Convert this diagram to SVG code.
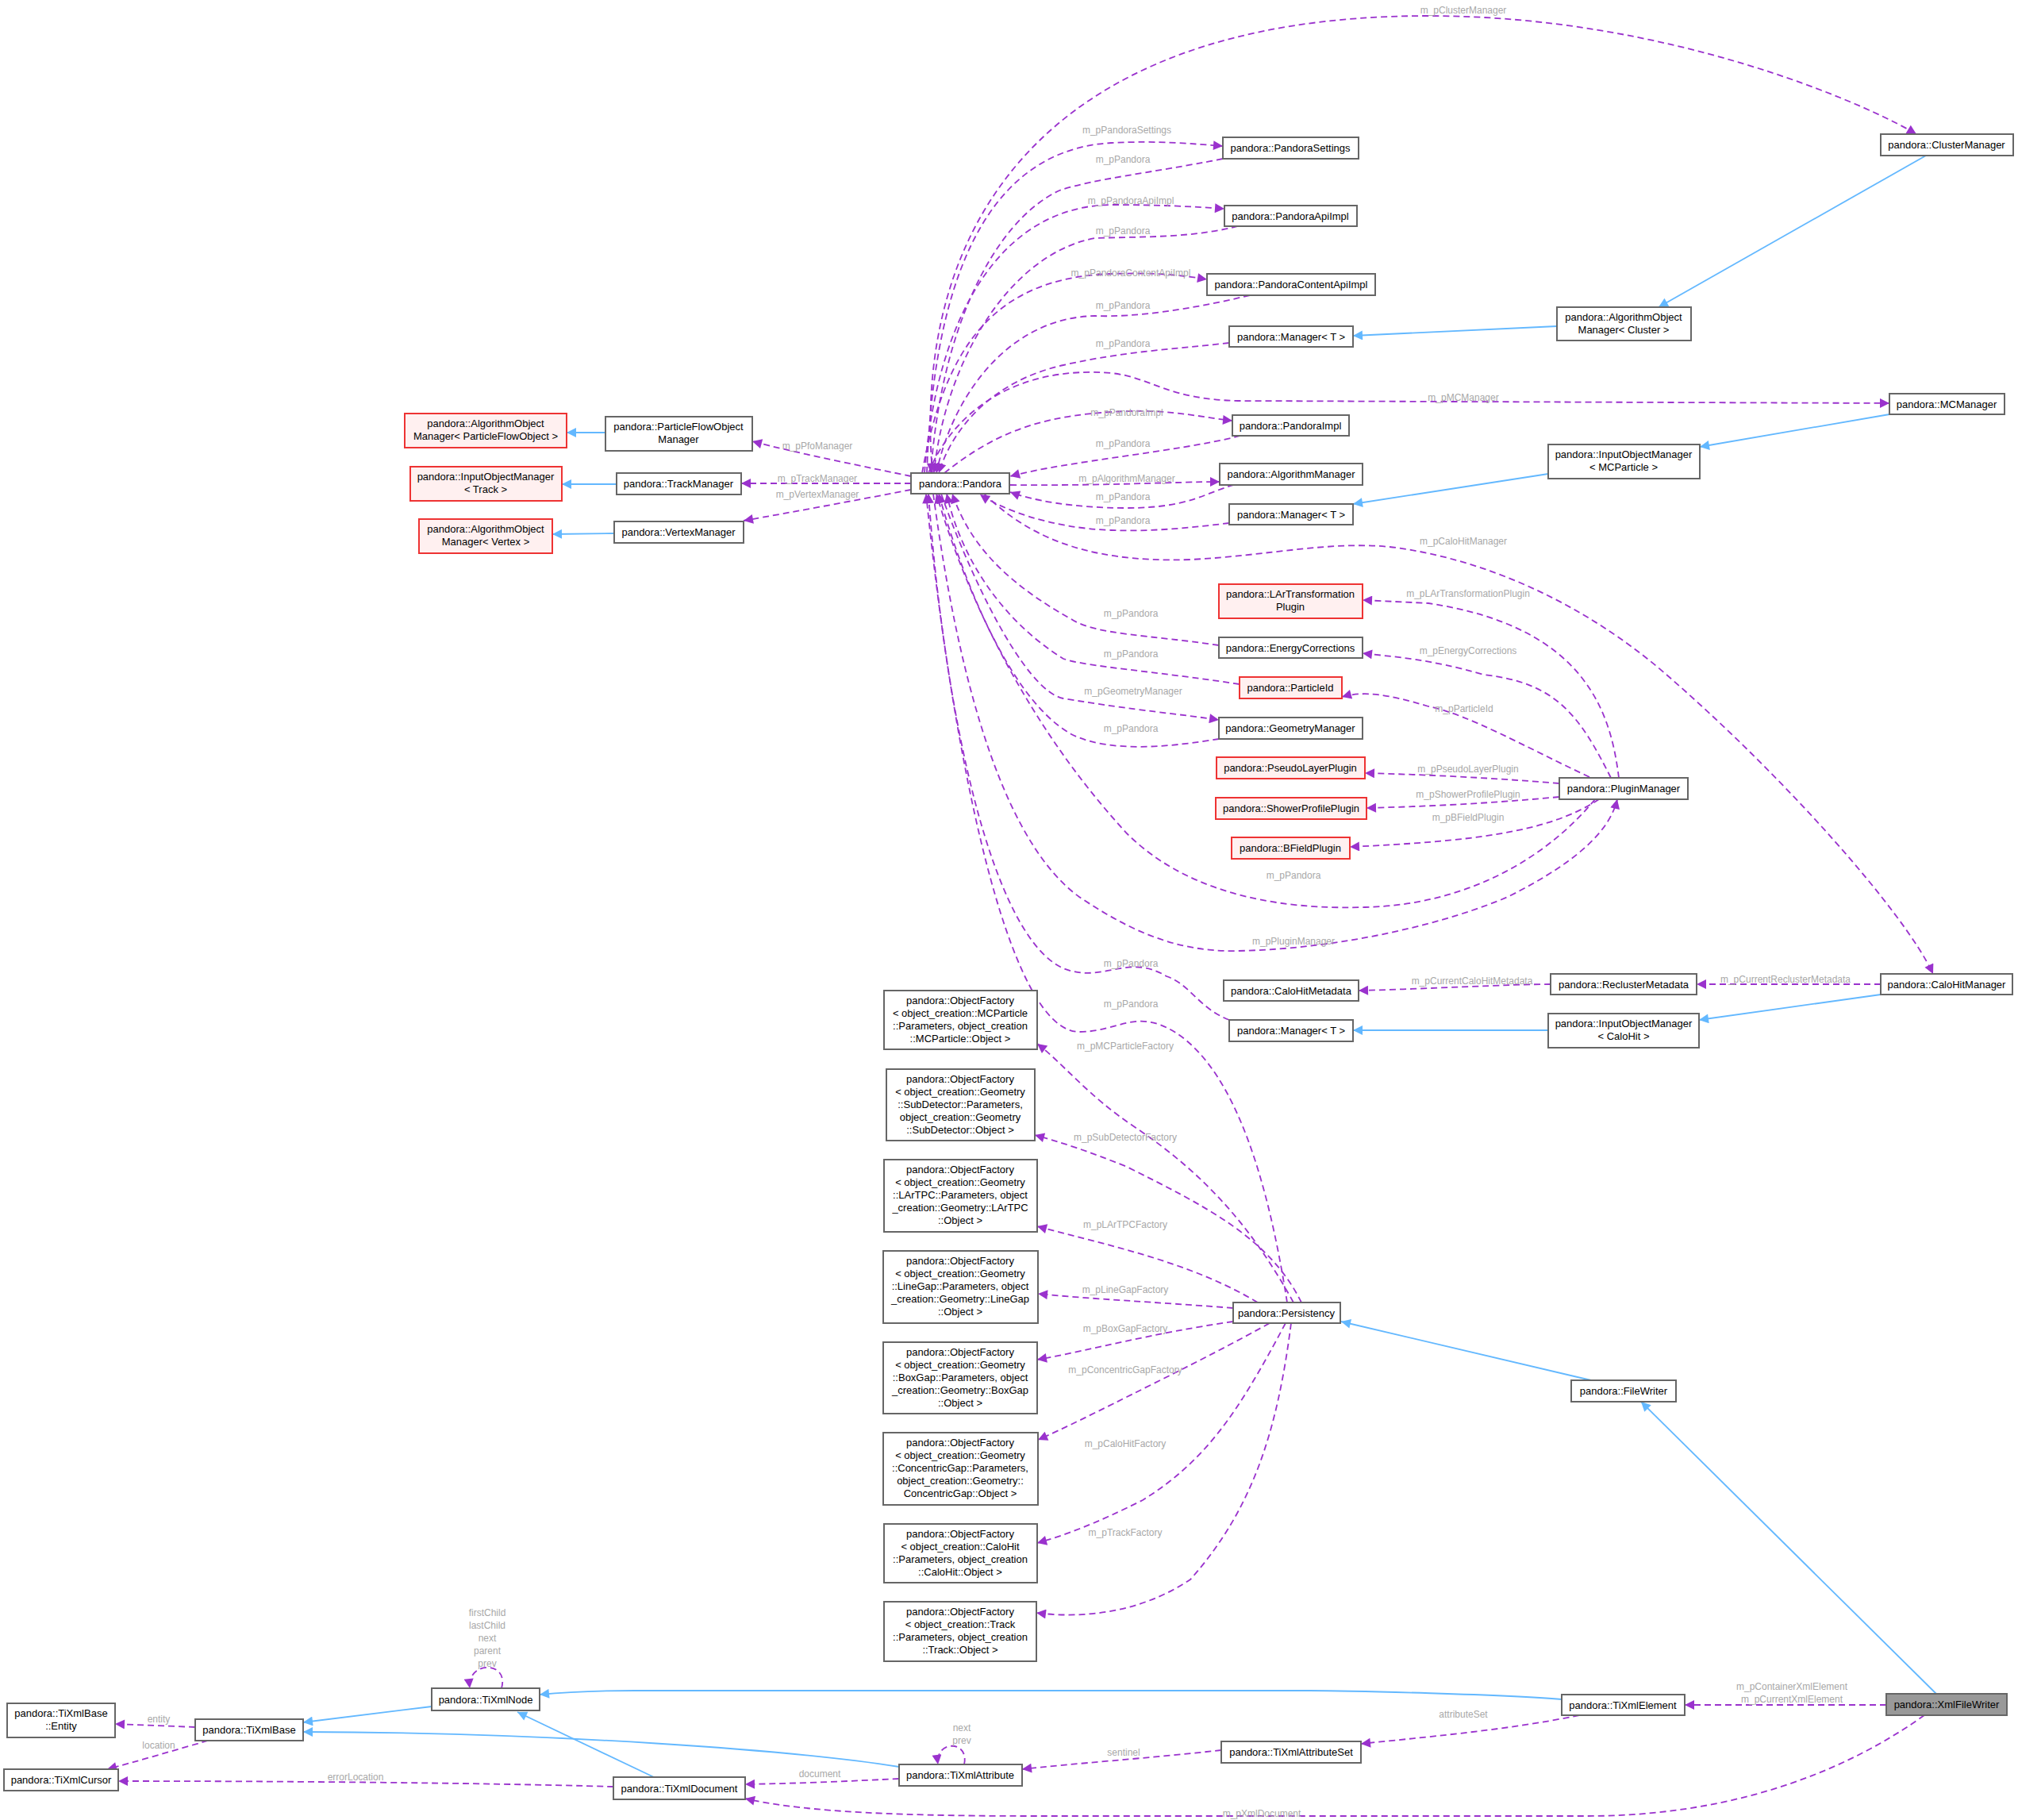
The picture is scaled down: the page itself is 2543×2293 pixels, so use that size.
<svg xmlns="http://www.w3.org/2000/svg" width="2543" height="2293" viewBox="0 0 2543 2293">
<style>
.n rect{fill:#fff;stroke:#666;stroke-width:2}
.r rect{fill:#fff0f0;stroke:#e33;stroke-width:2}
.g rect{fill:#999;stroke:#666;stroke-width:2}
text{font-family:"Liberation Sans",Arial,sans-serif}
.n text,.r text,.g text{font-size:13px;fill:#000;text-anchor:middle}
.l{font-size:12px;fill:#a8a8a8;text-anchor:middle}
.d{fill:none;stroke:#9a32cd;stroke-width:1.8;stroke-dasharray:8,5}
.b{fill:none;stroke:#63b8ff;stroke-width:1.8}
</style>
<defs>
<marker id="mp" viewBox="0 0 10 10" refX="10" refY="5" markerWidth="16" markerHeight="12" markerUnits="userSpaceOnUse" orient="auto"><path d="M0,0L10,5L0,10z" fill="#9a32cd"/></marker>
<marker id="mb" viewBox="0 0 10 10" refX="10" refY="5" markerWidth="16" markerHeight="12" markerUnits="userSpaceOnUse" orient="auto"><path d="M0,0L10,5L0,10z" fill="#63b8ff"/></marker>
</defs>
<rect width="2543" height="2293" fill="#fff"/>
<g id="edges">
<g class="d" marker-end="url(#mp)">
<path d="M1175,596 C1150,300 1300,20 1800,20 C2100,20 2350,130 2415,169"/>
<path d="M1168,596 C1175,380 1230,190 1400,180 C1460,177 1500,181 1541,184"/>
<path d="M1541,200 C1450,218 1380,225 1335,240 C1250,280 1185,420 1173,596"/>
<path d="M1165,596 C1180,400 1260,260 1400,258 C1460,258 1500,260 1543,263"/>
<path d="M1560,285 C1500,300 1440,298 1380,300 C1270,320 1190,460 1177,596"/>
<path d="M1162,596 C1190,440 1250,350 1400,345 C1460,343 1490,347 1521,352"/>
<path d="M1575,372 C1500,390 1430,400 1380,398 C1270,400 1200,500 1180,596"/>
<path d="M1549,432 C1480,440 1420,442 1340,460 C1250,480 1200,540 1183,596"/>
<path d="M1170,596 C1200,520 1280,460 1400,470 C1450,475 1470,503 1560,505 L2381,508"/>
<path d="M1190,596 C1260,540 1320,522 1420,518 C1480,516 1520,527 1553,530"/>
<path d="M1563,549 C1480,570 1350,580 1273,600"/>
<path d="M1273,611 C1400,612 1480,607 1537,607"/>
<path d="M1555,611 C1520,620 1500,640 1420,640 C1350,640 1300,630 1273,620"/>
<path d="M1549,659 C1500,665 1450,670 1400,668 C1320,665 1260,640 1235,623"/>
<path d="M1240,622 C1290,670 1360,710 1500,705 C1600,700 1680,680 1760,690 C1900,710 2020,780 2100,850 C2250,980 2400,1150 2436,1227"/>
<path d="M2040,980 C2030,900 2000,790 1800,760 L1717,756"/>
<path d="M2030,980 C1990,900 1960,860 1870,850 C1800,830 1760,828 1717,823"/>
<path d="M1536,813 C1450,800 1380,800 1350,780 C1260,730 1220,680 1200,622"/>
<path d="M1562,862 C1450,845 1370,840 1340,830 C1260,780 1210,700 1193,622"/>
<path d="M1186,622 C1220,720 1290,870 1340,880 C1430,895 1490,900 1536,907"/>
<path d="M1536,931 C1480,940 1400,950 1350,925 C1270,880 1210,720 1183,622"/>
<path d="M2003,979 C1920,940 1850,900 1800,890 C1750,875 1720,870 1691,878"/>
<path d="M1965,987 C1880,980 1800,976 1720,974"/>
<path d="M1965,1004 C1880,1012 1800,1016 1722,1018"/>
<path d="M2015,1007 C1950,1050 1850,1060 1701,1067"/>
<path d="M2010,1007 C1950,1080 1850,1140 1720,1143 C1560,1148 1470,1100 1420,1050 C1300,920 1220,760 1180,622"/>
<path d="M1176,622 C1200,800 1250,1050 1360,1130 C1420,1170 1480,1200 1560,1198 C1700,1195 1830,1160 1900,1130 C2000,1080 2030,1040 2038,1007"/>
<path d="M1549,1285 C1510,1270 1500,1240 1470,1230 C1420,1200 1390,1240 1340,1220 C1250,1180 1190,900 1170,622"/>
<path d="M1622,1641 C1600,1500 1560,1350 1480,1300 C1430,1270 1410,1300 1360,1300 C1270,1300 1200,950 1167,622"/>
<path d="M1630,1641 C1580,1550 1520,1480 1430,1420 C1370,1380 1340,1340 1307,1315"/>
<path d="M1640,1641 C1600,1560 1520,1520 1420,1470 C1370,1450 1340,1440 1304,1430"/>
<path d="M1585,1641 C1500,1590 1400,1570 1307,1545"/>
<path d="M1554,1648 C1450,1640 1380,1637 1308,1630"/>
<path d="M1554,1665 C1450,1680 1380,1700 1307,1713"/>
<path d="M1600,1667 C1540,1700 1500,1720 1450,1745 C1380,1780 1340,1800 1308,1814"/>
<path d="M1620,1667 C1560,1780 1520,1840 1440,1890 C1380,1920 1340,1935 1307,1944"/>
<path d="M1627,1667 C1610,1800 1580,1900 1500,1990 C1440,2030 1370,2040 1306,2032"/>
<path d="M2370,1240 L2138,1240"/>
<path d="M1954,1240 C1900,1240 1800,1246 1712,1248"/>
<path d="M1148,600 C1100,590 1000,570 948,556"/>
<path d="M1148,609 L934,609"/>
<path d="M1148,617 C1080,630 1000,645 937,656"/>
<path d="M2377,2148 L2123,2148"/>
<path d="M1990,2161 C1900,2180 1780,2190 1715,2197"/>
<path d="M1539,2205 C1450,2215 1350,2222 1288,2229"/>
<path d="M1133,2241 C1050,2245 1000,2247 939,2248"/>
<path d="M773,2251 C600,2246 350,2244 149,2244"/>
<path d="M246,2176 L145,2172"/>
<path d="M262,2193 C220,2205 170,2220 135,2229"/>
<path d="M2425,2161 C2300,2250 2150,2288 2000,2288 L1300,2288 C1100,2288 1000,2280 939,2266"/>
<path d="M632,2127 C642,2092 588,2092 592,2127"/>
<path d="M1215,2223 C1222,2192 1178,2192 1182,2223"/>
</g>
<g class="b" marker-end="url(#mb)">
<path d="M1962,411 L1705,423"/>
<path d="M2427,196 L2090,387"/>
<path d="M2381,522 L2142,563"/>
<path d="M1951,597 L1705,635"/>
<path d="M2370,1253 L2141,1285"/>
<path d="M1951,1298 L1705,1298"/>
<path d="M763,545 L714,545"/>
<path d="M777,610 L708,610"/>
<path d="M774,672 L696,673"/>
<path d="M2005,1739 L1690,1665"/>
<path d="M2440,2134 L2068,1766"/>
<path d="M1968,2141 C1900,2135 1700,2130 1650,2130 L800,2130 C740,2130 700,2133 680,2135"/>
<path d="M544,2150 L382,2170"/>
<path d="M824,2239 L652,2157"/>
<path d="M1133,2226 C1000,2205 700,2183 382,2182"/>
</g>
<g class="l">
<text x="1844" y="17">m_pClusterManager</text>
<text x="1420" y="168">m_pPandoraSettings</text>
<text x="1415" y="205">m_pPandora</text>
<text x="1425" y="257">m_pPandoraApiImpl</text>
<text x="1415" y="295">m_pPandora</text>
<text x="1425" y="348">m_pPandoraContentApiImpl</text>
<text x="1415" y="389">m_pPandora</text>
<text x="1415" y="437">m_pPandora</text>
<text x="1844" y="505">m_pMCManager</text>
<text x="1420" y="524">m_pPandoraImpl</text>
<text x="1415" y="563">m_pPandora</text>
<text x="1420" y="607">m_pAlgorithmManager</text>
<text x="1415" y="630">m_pPandora</text>
<text x="1415" y="660">m_pPandora</text>
<text x="1844" y="686">m_pCaloHitManager</text>
<text x="1850" y="752">m_pLArTransformationPlugin</text>
<text x="1850" y="824">m_pEnergyCorrections</text>
<text x="1425" y="777">m_pPandora</text>
<text x="1425" y="828">m_pPandora</text>
<text x="1428" y="875">m_pGeometryManager</text>
<text x="1425" y="922">m_pPandora</text>
<text x="1845" y="897">m_pParticleId</text>
<text x="1850" y="973">m_pPseudoLayerPlugin</text>
<text x="1850" y="1005">m_pShowerProfilePlugin</text>
<text x="1850" y="1034">m_pBFieldPlugin</text>
<text x="1630" y="1107">m_pPandora</text>
<text x="1630" y="1190">m_pPluginManager</text>
<text x="1425" y="1218">m_pPandora</text>
<text x="1425" y="1269">m_pPandora</text>
<text x="1855" y="1240">m_pCurrentCaloHitMetadata</text>
<text x="2250" y="1238">m_pCurrentReclusterMetadata</text>
<text x="1418" y="1322">m_pMCParticleFactory</text>
<text x="1418" y="1437">m_pSubDetectorFactory</text>
<text x="1418" y="1547">m_pLArTPCFactory</text>
<text x="1418" y="1629">m_pLineGapFactory</text>
<text x="1418" y="1678">m_pBoxGapFactory</text>
<text x="1418" y="1730">m_pConcentricGapFactory</text>
<text x="1418" y="1823">m_pCaloHitFactory</text>
<text x="1418" y="1935">m_pTrackFactory</text>
<text x="1030" y="566">m_pPfoManager</text>
<text x="1030" y="607">m_pTrackManager</text>
<text x="1030" y="627">m_pVertexManager</text>
<text x="2258" y="2129">m_pContainerXmlElement</text>
<text x="2258" y="2145">m_pCurrentXmlElement</text>
<text x="1844" y="2164">attributeSet</text>
<text x="1416" y="2212">sentinel</text>
<text x="1033" y="2239">document</text>
<text x="448" y="2243">errorLocation</text>
<text x="200" y="2170">entity</text>
<text x="200" y="2203">location</text>
<text x="1590" y="2289">m_pXmlDocument</text>
<text x="614" y="2036">firstChild</text>
<text x="614" y="2052">lastChild</text>
<text x="614" y="2068">next</text>
<text x="614" y="2084">parent</text>
<text x="614" y="2100">prev</text>
<text x="1212" y="2181">next</text>
<text x="1212" y="2197">prev</text>
</g>
</g>
<g id="Pandora" class="n"><rect x="1148" y="596" width="124" height="26"/><text x="1210" y="614">pandora::Pandora</text></g>
<g id="PandoraSettings" class="n"><rect x="1541" y="173" width="171" height="27"/><text x="1626" y="191">pandora::PandoraSettings</text></g>
<g id="PandoraApiImpl" class="n"><rect x="1543" y="259" width="167" height="26"/><text x="1626" y="277">pandora::PandoraApiImpl</text></g>
<g id="PandoraContentApiImpl" class="n"><rect x="1521" y="345" width="212" height="27"/><text x="1627" y="363">pandora::PandoraContentApiImpl</text></g>
<g id="Manager1" class="n"><rect x="1549" y="411" width="156" height="26"/><text x="1627" y="429">pandora::Manager&lt; T &gt;</text></g>
<g id="PandoraImpl" class="n"><rect x="1553" y="523" width="147" height="26"/><text x="1626" y="541">pandora::PandoraImpl</text></g>
<g id="AlgorithmManager" class="n"><rect x="1537" y="584" width="180" height="27"/><text x="1627" y="602">pandora::AlgorithmManager</text></g>
<g id="Manager2" class="n"><rect x="1549" y="635" width="156" height="26"/><text x="1627" y="653">pandora::Manager&lt; T &gt;</text></g>
<g id="ClusterManager" class="n"><rect x="2370" y="169" width="167" height="27"/><text x="2453" y="187">pandora::ClusterManager</text></g>
<g id="AOMCluster" class="n"><rect x="1962" y="387" width="169" height="42"/><text x="2046" y="404">pandora::AlgorithmObject</text><text x="2046" y="420">Manager&lt; Cluster &gt;</text></g>
<g id="MCManager" class="n"><rect x="2381" y="496" width="145" height="26"/><text x="2453" y="514">pandora::MCManager</text></g>
<g id="IOMMCParticle" class="n"><rect x="1951" y="560" width="191" height="43"/><text x="2046" y="577">pandora::InputObjectManager</text><text x="2046" y="593">&lt; MCParticle &gt;</text></g>
<g id="AOMPFO" class="r"><rect x="510" y="521" width="204" height="43"/><text x="612" y="538">pandora::AlgorithmObject</text><text x="612" y="554">Manager&lt; ParticleFlowObject &gt;</text></g>
<g id="PFOManager" class="n"><rect x="763" y="525" width="185" height="43"/><text x="855" y="542">pandora::ParticleFlowObject</text><text x="855" y="558">Manager</text></g>
<g id="IOMTrack" class="r"><rect x="517" y="588" width="191" height="43"/><text x="612" y="605">pandora::InputObjectManager</text><text x="612" y="621">&lt; Track &gt;</text></g>
<g id="TrackManager" class="n"><rect x="777" y="596" width="157" height="27"/><text x="855" y="614">pandora::TrackManager</text></g>
<g id="AOMVertex" class="r"><rect x="528" y="654" width="168" height="43"/><text x="612" y="671">pandora::AlgorithmObject</text><text x="612" y="687">Manager&lt; Vertex &gt;</text></g>
<g id="VertexManager" class="n"><rect x="774" y="657" width="163" height="27"/><text x="855" y="675">pandora::VertexManager</text></g>
<g id="LArTransformationPlugin" class="r"><rect x="1536" y="736" width="181" height="43"/><text x="1626" y="753">pandora::LArTransformation</text><text x="1626" y="769">Plugin</text></g>
<g id="EnergyCorrections" class="n"><rect x="1536" y="803" width="181" height="26"/><text x="1626" y="821">pandora::EnergyCorrections</text></g>
<g id="ParticleId" class="r"><rect x="1562" y="853" width="129" height="27"/><text x="1626" y="871">pandora::ParticleId</text></g>
<g id="GeometryManager" class="n"><rect x="1536" y="904" width="181" height="27"/><text x="1626" y="922">pandora::GeometryManager</text></g>
<g id="PseudoLayerPlugin" class="r"><rect x="1533" y="954" width="187" height="27"/><text x="1626" y="972">pandora::PseudoLayerPlugin</text></g>
<g id="ShowerProfilePlugin" class="r"><rect x="1532" y="1005" width="190" height="27"/><text x="1627" y="1023">pandora::ShowerProfilePlugin</text></g>
<g id="BFieldPlugin" class="r"><rect x="1552" y="1055" width="149" height="27"/><text x="1626" y="1073">pandora::BFieldPlugin</text></g>
<g id="PluginManager" class="n"><rect x="1965" y="980" width="162" height="27"/><text x="2046" y="998">pandora::PluginManager</text></g>
<g id="CaloHitMetadata" class="n"><rect x="1542" y="1235" width="170" height="26"/><text x="1627" y="1253">pandora::CaloHitMetadata</text></g>
<g id="ReclusterMetadata" class="n"><rect x="1954" y="1227" width="184" height="26"/><text x="2046" y="1245">pandora::ReclusterMetadata</text></g>
<g id="CaloHitManager" class="n"><rect x="2370" y="1227" width="166" height="26"/><text x="2453" y="1245">pandora::CaloHitManager</text></g>
<g id="Manager3" class="n"><rect x="1549" y="1285" width="156" height="27"/><text x="1627" y="1303">pandora::Manager&lt; T &gt;</text></g>
<g id="IOMCaloHit" class="n"><rect x="1951" y="1277" width="190" height="43"/><text x="2046" y="1294">pandora::InputObjectManager</text><text x="2046" y="1310">&lt; CaloHit &gt;</text></g>
<g id="OFMCParticle" class="n"><rect x="1114" y="1248" width="193" height="74"/><text x="1210" y="1265">pandora::ObjectFactory</text><text x="1210" y="1281">&lt; object_creation::MCParticle</text><text x="1210" y="1297">::Parameters, object_creation</text><text x="1210" y="1313">::MCParticle::Object &gt;</text></g>
<g id="OFSubDetector" class="n"><rect x="1117" y="1347" width="187" height="90"/><text x="1210" y="1364">pandora::ObjectFactory</text><text x="1210" y="1380">&lt; object_creation::Geometry</text><text x="1210" y="1396">::SubDetector::Parameters,</text><text x="1210" y="1412">object_creation::Geometry</text><text x="1210" y="1428">::SubDetector::Object &gt;</text></g>
<g id="OFLArTPC" class="n"><rect x="1114" y="1461" width="193" height="91"/><text x="1210" y="1478">pandora::ObjectFactory</text><text x="1210" y="1494">&lt; object_creation::Geometry</text><text x="1210" y="1510">::LArTPC::Parameters, object</text><text x="1210" y="1526">_creation::Geometry::LArTPC</text><text x="1210" y="1542">::Object &gt;</text></g>
<g id="OFLineGap" class="n"><rect x="1113" y="1576" width="195" height="91"/><text x="1210" y="1593">pandora::ObjectFactory</text><text x="1210" y="1609">&lt; object_creation::Geometry</text><text x="1210" y="1625">::LineGap::Parameters, object</text><text x="1210" y="1641">_creation::Geometry::LineGap</text><text x="1210" y="1657">::Object &gt;</text></g>
<g id="OFBoxGap" class="n"><rect x="1113" y="1691" width="194" height="90"/><text x="1210" y="1708">pandora::ObjectFactory</text><text x="1210" y="1724">&lt; object_creation::Geometry</text><text x="1210" y="1740">::BoxGap::Parameters, object</text><text x="1210" y="1756">_creation::Geometry::BoxGap</text><text x="1210" y="1772">::Object &gt;</text></g>
<g id="OFConcentricGap" class="n"><rect x="1113" y="1805" width="195" height="91"/><text x="1210" y="1822">pandora::ObjectFactory</text><text x="1210" y="1838">&lt; object_creation::Geometry</text><text x="1210" y="1854">::ConcentricGap::Parameters,</text><text x="1210" y="1870">object_creation::Geometry::</text><text x="1210" y="1886">ConcentricGap::Object &gt;</text></g>
<g id="OFCaloHit" class="n"><rect x="1114" y="1920" width="193" height="74"/><text x="1210" y="1937">pandora::ObjectFactory</text><text x="1210" y="1953">&lt; object_creation::CaloHit</text><text x="1210" y="1969">::Parameters, object_creation</text><text x="1210" y="1985">::CaloHit::Object &gt;</text></g>
<g id="OFTrack" class="n"><rect x="1114" y="2018" width="192" height="75"/><text x="1210" y="2035">pandora::ObjectFactory</text><text x="1210" y="2051">&lt; object_creation::Track</text><text x="1210" y="2067">::Parameters, object_creation</text><text x="1210" y="2083">::Track::Object &gt;</text></g>
<g id="Persistency" class="n"><rect x="1554" y="1641" width="135" height="26"/><text x="1621" y="1659">pandora::Persistency</text></g>
<g id="FileWriter" class="n"><rect x="1980" y="1739" width="132" height="27"/><text x="2046" y="1757">pandora::FileWriter</text></g>
<g id="XmlFileWriter" class="g"><rect x="2377" y="2134" width="152" height="27"/><text x="2453" y="2152">pandora::XmlFileWriter</text></g>
<g id="TiXmlElement" class="n"><rect x="1968" y="2135" width="155" height="26"/><text x="2045" y="2153">pandora::TiXmlElement</text></g>
<g id="TiXmlAttributeSet" class="n"><rect x="1539" y="2194" width="176" height="27"/><text x="1627" y="2212">pandora::TiXmlAttributeSet</text></g>
<g id="TiXmlAttribute" class="n"><rect x="1133" y="2223" width="155" height="27"/><text x="1210" y="2241">pandora::TiXmlAttribute</text></g>
<g id="TiXmlDocument" class="n"><rect x="773" y="2239" width="166" height="28"/><text x="856" y="2258">pandora::TiXmlDocument</text></g>
<g id="TiXmlNode" class="n"><rect x="544" y="2127" width="136" height="28"/><text x="612" y="2146">pandora::TiXmlNode</text></g>
<g id="TiXmlBase" class="n"><rect x="246" y="2166" width="136" height="27"/><text x="314" y="2184">pandora::TiXmlBase</text></g>
<g id="TiXmlBaseEntity" class="n"><rect x="9" y="2146" width="136" height="43"/><text x="77" y="2163">pandora::TiXmlBase</text><text x="77" y="2179">::Entity</text></g>
<g id="TiXmlCursor" class="n"><rect x="5" y="2229" width="144" height="27"/><text x="77" y="2247">pandora::TiXmlCursor</text></g>
</svg>
